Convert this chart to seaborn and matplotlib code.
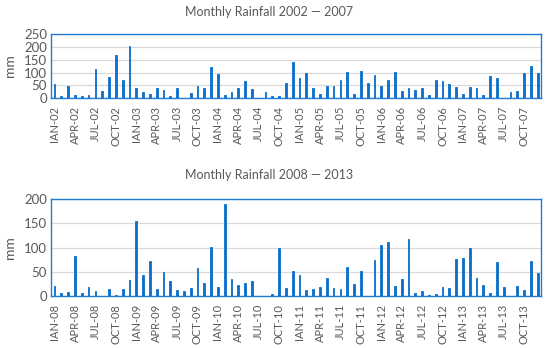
import numpy as np
import pandas as pd
import matplotlib
matplotlib.use("Agg")
import matplotlib.pyplot as plt
import seaborn as sns

months = ["IAN", "FEB", "MAR", "APR", "MAY", "JUN", "JUL", "AUG", "SEP", "OCT", "NOV", "DEC"]

years_a = ["02", "03", "04", "05", "06", "07"]
years_b = ["08", "09", "10", "11", "12", "13"]

rain_2002_2007 = [
    57, 9, 48, 13, 9, 13, 112, 26, 81, 167, 70, 203,
    40, 25, 18, 39, 33, 9, 38, 0, 22, 48, 39, 122,
    94, 13, 23, 40, 65, 35, 0, 25, 9, 10, 59, 141,
    78, 99, 40, 16, 48, 48, 72, 102, 16, 104, 60, 90,
    47, 70, 103, 29, 40, 33, 40, 13, 72, 66, 56, 43,
    16, 43, 40, 13, 85, 78, 0, 25, 29, 98, 125, 100,
]

rain_2008_2013 = [
    20, 6, 8, 83, 6, 19, 11, 1, 14, 3, 14, 34,
    155, 43, 73, 14, 49, 32, 12, 11, 16, 59, 28, 101,
    18, 189, 35, 23, 27, 32, 0, 0, 4, 99, 16, 52,
    44, 13, 14, 19, 37, 17, 14, 60, 24, 51, 0, 74,
    106, 111, 21, 35, 117, 6, 10, 3, 4, 19, 17, 76,
    78, 99, 37, 22, 6, 70, 18, 0, 20, 13, 72, 48,
]

sns.set_style("white")
plt.rcParams["font.family"] = ["Lato", "DejaVu Sans"]

blue = "#0B6FCB"
grey_txt = "#595959"

fig = plt.figure(figsize=(5.5, 3.48), dpi=100)
ax1 = fig.add_axes([0.093, 0.718, 0.891, 0.184])
ax2 = fig.add_axes([0.093, 0.149, 0.891, 0.279])


def panel(ax, years, values, title, ymax, title_y):
    labels = [m + "-" + y for y in years for m in months]
    df = pd.DataFrame({"month": labels, "mm": values})
    sns.barplot(data=df, x="month", y="mm", color=blue, width=0.26,
                saturation=1, edgecolor=blue, linewidth=0.6, ax=ax, zorder=3)
    ax.set_ylim(0, ymax)
    ax.set_yticks(np.arange(0, ymax + 1, 50))
    ax.yaxis.grid(True, color="#D9D9D9", linewidth=0.9, zorder=0)
    ax.set_axisbelow(True)
    ax.set_xticks(range(0, len(labels), 3))
    ax.set_xticklabels(labels[::3], rotation=90)
    ax.tick_params(axis="x", length=0, labelsize=8, colors=grey_txt, pad=5.5)
    ax.tick_params(axis="y", length=0, labelsize=9.5, colors=grey_txt, pad=3)
    ax.set_xlabel("")
    ax.set_ylabel("mm", fontsize=10, color=grey_txt, labelpad=6)
    fig.text(0.49, title_y, title, fontsize=9, color=grey_txt,
             ha="center", va="center")
    for s in ax.spines.values():
        s.set_visible(True)
        s.set_color("#1F7BD3")
        s.set_linewidth(1.0)


panel(ax1, years_a, rain_2002_2007, "Monthly Rainfall 2002 \u2014 2007", 250, 1 - 12 / 348)
panel(ax2, years_b, rain_2008_2013, "Monthly Rainfall 2008 \u2014 2013", 200, 1 - 175 / 348)

fig.savefig("out.png", dpi=100)
